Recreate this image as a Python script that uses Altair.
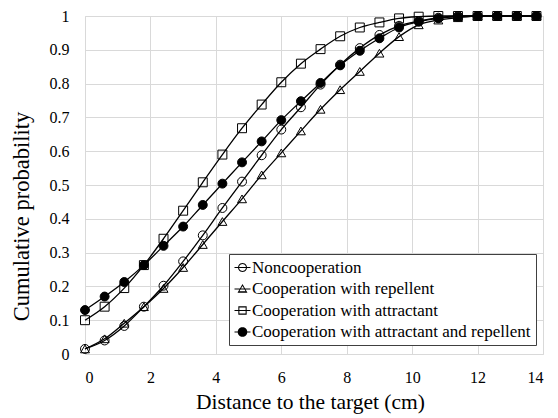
import math
import altair as alt
import pandas as pd

distance = [0.0, 0.6, 1.2, 1.8, 2.4, 3.0, 3.6, 4.2, 4.8, 5.4, 6.0, 6.6,
            7.2, 7.8, 8.4, 9.0, 9.6, 10.2, 10.8, 11.4, 12.0, 12.6, 13.2, 13.8]

series_names = ["Noncooperation",
                "Cooperation with repellent",
                "Cooperation with attractant",
                "Cooperation with attractant and repellent"]

noncooperation = [0.015, 0.04, 0.083, 0.14, 0.202, 0.274, 0.351, 0.432, 0.51, 0.588, 0.664, 0.73,
                  0.797, 0.856, 0.905, 0.944, 0.971, 0.985, 0.995, 1.0, 1.0, 1.0, 1.0, 1.0]
repellent = [0.015, 0.045, 0.091, 0.14, 0.194, 0.256, 0.324, 0.392, 0.459, 0.53, 0.595, 0.66,
             0.724, 0.782, 0.836, 0.89, 0.939, 0.974, 0.988, 0.995, 1.0, 1.0, 1.0, 1.0]
attractant = [0.10, 0.14, 0.195, 0.263, 0.341, 0.424, 0.508, 0.59, 0.668, 0.738, 0.804, 0.859,
              0.902, 0.94, 0.966, 0.981, 0.993, 0.998, 1.0, 1.0, 1.0, 1.0, 1.0, 1.0]
attr_repel = [0.13, 0.17, 0.213, 0.263, 0.32, 0.377, 0.441, 0.504, 0.567, 0.629, 0.692, 0.748,
              0.802, 0.854, 0.897, 0.934, 0.966, 0.983, 0.993, 0.998, 1.0, 1.0, 1.0, 1.0]

x_ticks = [0, 2, 4, 6, 8, 10, 12, 14]
y_ticks = [0, 0.1, 0.2, 0.3, 0.4, 0.5, 0.6, 0.7, 0.8, 0.9, 1.0]

rows = []
for name, vals in zip(series_names, [noncooperation, repellent, attractant, attr_repel]):
    for d, v in zip(distance, vals):
        rows.append({"distance": d, "prob": v, "series": name})
df = pd.DataFrame(rows)

FONT = "Liberation Serif"

point_shapes = ["circle", "triangle-up", "square", "circle"]
fills = ["transparent", "transparent", "transparent", "black"]


# ---- legend glyphs (line + marker) drawn as filled outlines, unit box [-1, 1] ----
def poly(pts, reverse=False):
    if reverse:
        pts = pts[::-1]
    s = "M%.3f,%.3f" % pts[0]
    for p in pts[1:]:
        s += "L%.3f,%.3f" % p
    return s + "Z"


def circle_pts(r, n=24):
    return [(r * math.cos(2 * math.pi * i / n), r * math.sin(2 * math.pi * i / n)) for i in range(n)]


def tri_pts(h):
    return [(0, -h), (h * 1.0, h * 0.75), (-h * 1.0, h * 0.75)]


def sq_pts(h):
    return [(-h, -h), (h, -h), (h, h), (-h, h)]


T = 0.13  # outline thickness (~1px)
LINE = poly([(-1, -0.07), (1, -0.07), (1, 0.07), (-1, 0.07)])
legend_shapes = [
    LINE + poly(circle_pts(0.56)) + poly(circle_pts(0.56 - T), reverse=True),
    LINE + poly(tri_pts(0.62)) + poly(tri_pts(0.62 - 1.8 * T), reverse=True),
    LINE + poly(sq_pts(0.52)) + poly(sq_pts(0.52 - T), reverse=True),
    LINE + poly(circle_pts(0.6)),
]

x_enc = alt.X("distance:Q",
              scale=alt.Scale(domain=[0, 14], nice=False),
              axis=alt.Axis(values=x_ticks, title="Distance to the target (cm)",
                            grid=True, gridColor="#d9d9d9", domain=False, ticks=False,
                            labelFont=FONT, labelFontSize=16, labelColor="black",
                            labelBaseline="alphabetic", labelPadding=28, labelOverlap=False,
                            titleFont=FONT, titleFontSize=21.5, titleFontWeight="normal",
                            titleColor="black", titleBaseline="alphabetic",
                            titleX=225, titleY=54))
y_enc = alt.Y("prob:Q",
              scale=alt.Scale(domain=[0, 1], nice=False),
              axis=alt.Axis(values=y_ticks, format="~g", title="Cumulative probability",
                            grid=True, gridColor="#d9d9d9", domain=False, ticks=False,
                            labelFont=FONT, labelFontSize=16, labelColor="black",
                            labelPadding=16, labelOverlap=False,
                            titleFont=FONT, titleFontSize=22.5, titleFontWeight="normal",
                            titleColor="black", titleAngle=270, titleAlign="center",
                            titleBaseline="alphabetic", titleX=-57, titleY=200))

base = alt.Chart(df).encode(x=x_enc, y=y_enc)

lines = base.mark_line(color="black", strokeWidth=1.3, interpolate="monotone").encode(
    detail="series:N")

point_layers = []
for name, shp, fl in zip(series_names, point_shapes, fills):
    point_layers.append(
        base.transform_filter(alt.datum.series == name).mark_point(
            shape=shp, fill=fl, stroke="black", strokeWidth=1, size=80, opacity=1
        )
    )

legend_layer = base.transform_filter(alt.datum.distance < -100).mark_point(
    filled=True, fill="black", strokeWidth=0, size=256, opacity=1).encode(
    shape=alt.Shape("series:N", scale=alt.Scale(domain=series_names, range=legend_shapes),
                    legend=alt.Legend(orient="none", legendX=144, legendY=238, title=None,
                                      labelFont=FONT, labelFontSize=17, labelColor="black",
                                      labelLimit=500, symbolSize=256,
                                      symbolFillColor="black", symbolStrokeWidth=0,
                                      rowPadding=3.5, labelOffset=1, padding=5,
                                      strokeColor="#404040", fillColor="white")),
)

chart = alt.layer(lines, *point_layers, legend_layer).properties(
    width=458, height=338,
    autosize=alt.AutoSizeParams(type="none"),
    padding={"left": 77, "top": 8, "right": 7, "bottom": 64},
).configure_view(stroke=None).configure(background="white")

chart.save("out.html", embed_options={"renderer": "svg", "actions": False})
